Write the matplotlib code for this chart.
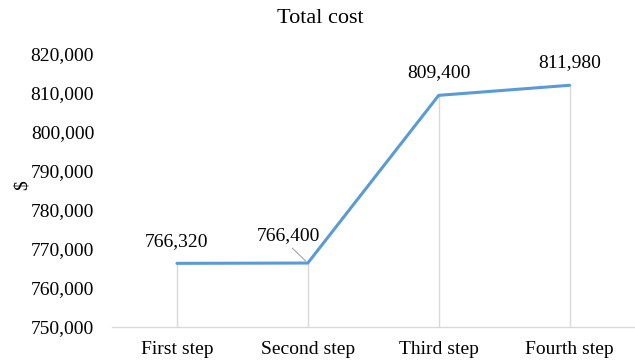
import matplotlib
matplotlib.use("Agg")
import matplotlib.pyplot as plt
from matplotlib.ticker import FuncFormatter

# step totals
steps = ["First step", "Second step", "Third step", "Fourth step"]
total_cost = [766320, 766400, 809400, 811980]
y_ticks = [750000, 760000, 770000, 780000, 790000, 800000, 810000, 820000]

LINE_BLUE = "#5B9BD5"
LIGHT_GRAY = "#D9D9D9"

plt.rcParams["font.family"] = ["Liberation Serif", "DejaVu Serif"]

fig = plt.figure(figsize=(6.35, 3.61), dpi=100)
ax = fig.add_axes([0.1756, 0.0942, 0.8244, 0.7562])

x = list(range(len(steps)))

# drop lines from each point down to the category axis
ax.vlines(x, y_ticks[0], total_cost, color=LIGHT_GRAY, lw=1.0, zorder=1)
ax.plot(x, total_cost, color=LINE_BLUE, lw=2.2, solid_capstyle="round", zorder=3)

ax.set_xlim(-0.5, len(steps) - 0.5)
ax.set_ylim(y_ticks[0], y_ticks[-1])
ax.set_xticks(x)
ax.set_xticklabels(steps, fontsize=14)
ax.set_yticks(y_ticks)
ax.yaxis.set_major_formatter(FuncFormatter(lambda v, p: f"{int(v):,}"))
ax.tick_params(axis="y", length=0, labelsize=14, pad=12.5)
ax.tick_params(axis="x", length=0, pad=10)

for side in ["top", "right", "left"]:
    ax.spines[side].set_visible(False)
ax.spines["bottom"].set_color(LIGHT_GRAY)
ax.spines["bottom"].set_linewidth(1.0)

# value labels
offsets = [(0, 15.5), (-14, 19.5), (0, 16.5), (0, 16)]
for xi, val, off in zip(x, total_cost, offsets):
    if off[0] != 0:
        ax.annotate(f"{val:,}", (xi, val), xytext=off, textcoords="offset points",
                    ha="center", va="center", fontsize=14,
                    arrowprops=dict(arrowstyle="-", color="#A6A6A6", lw=0.8,
                                    shrinkA=1, shrinkB=2, relpos=(0.5, 0.0)))
    else:
        ax.annotate(f"{val:,}", (xi, val), xytext=off, textcoords="offset points",
                    ha="center", va="center", fontsize=14)

ax.set_ylabel("$", fontsize=14)
ax.yaxis.set_label_coords(-0.155, 0.52)
fig.suptitle("Total cost", fontsize=16, x=0.505, y=0.975)

fig.savefig("out.png", dpi=100)
